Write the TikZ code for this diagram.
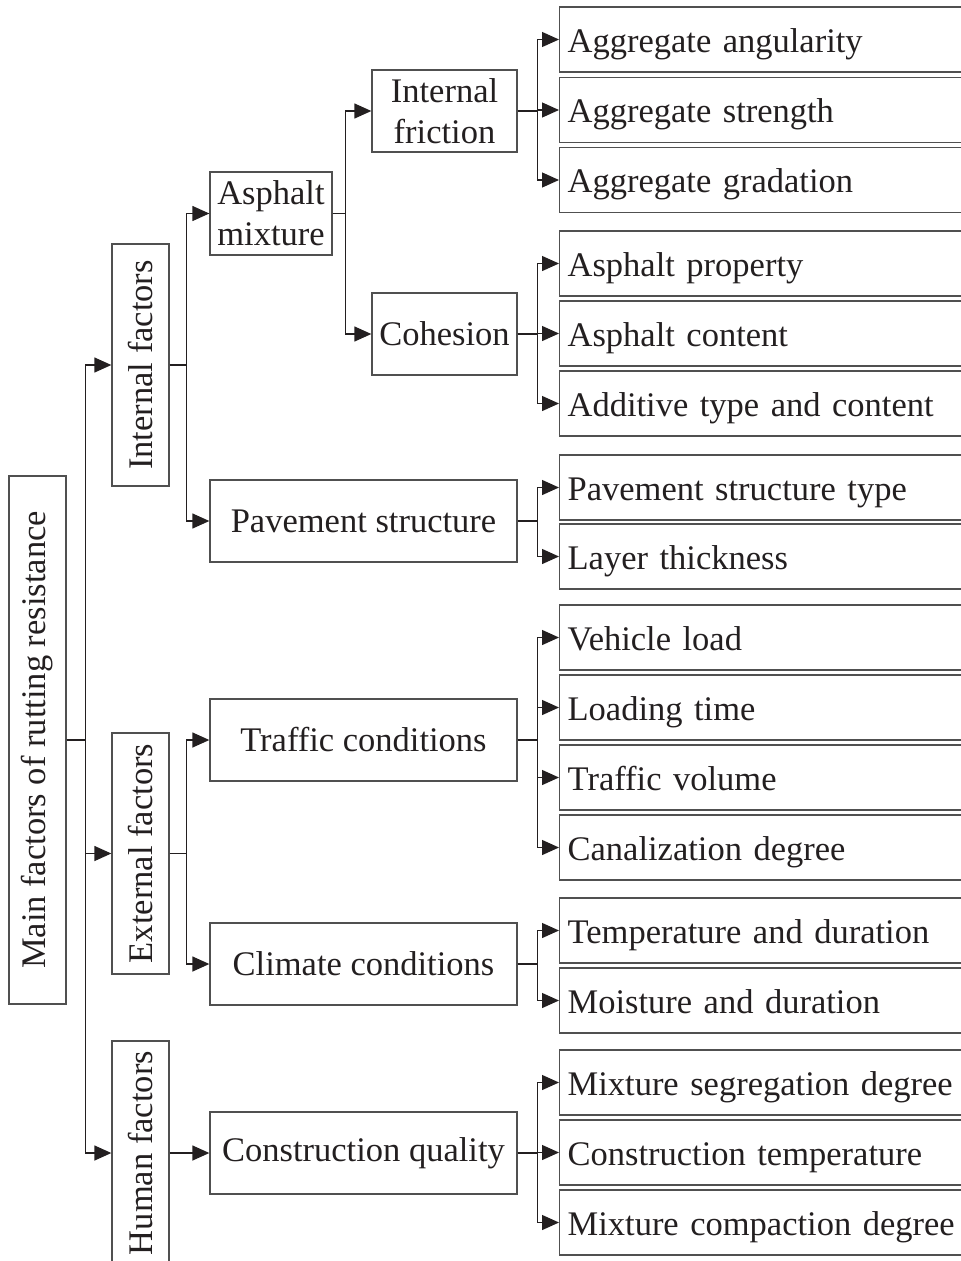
\documentclass[tikz,border=0pt]{standalone}
\usepackage{fontspec}
\setmainfont{Liberation Serif}
\usepackage{xcolor}
\usepackage{tikz}
\usetikzlibrary{arrows.meta}
\definecolor{boxcol}{HTML}{505050}
\definecolor{linecol}{HTML}{231F20}
\newcommand{\boxfont}{\fontsize{34.5}{41}\selectfont}
\tikzstyle{arrow} = [line width=1.3pt,draw=linecol,-{Triangle[length=17pt,width=15pt]}]
\tikzstyle{box} = [draw=boxcol,line width=1.3pt,inner sep=0pt,font=\boxfont,text=linecol,align=center]
\tikzstyle{side} = [box,rotate=90,minimum height=57pt]
\tikzstyle{leaf} = [box,anchor=west,minimum height=65pt,inner xsep=8pt,text width=414pt,align=left,text height=28pt,text depth=3pt]

\begin{document}
\begin{tikzpicture}[x=1pt,y=-1pt]
	\clip (0,0) rectangle (961,1261);
	
	% Root and the three groups (rotated boxes):
	\node [side,minimum width=528pt] (main) at (37.5,740) {Main factors of rutting resistance};
	\node [side,minimum width=242pt] (intf) at (140.5,365) {Internal factors};
	\node [side,minimum width=241pt] (extf) at (140.5,853.5) {External factors};
	\node [side,minimum width=224pt] (humf) at (140.5,1153) {Human factors};
	
	% Middle level:
	\node [box,minimum width=122pt,minimum height=83pt] (asph) at (271,213.5) {Asphalt\\mixture};
	\node [box,minimum width=307pt,minimum height=82pt] (pav) at (363.5,521) {Pavement structure};
	\node [box,minimum width=145pt,minimum height=82pt] (fric) at (444.5,111) {Internal\\friction};
	\node [box,minimum width=145pt,minimum height=82pt] (coh) at (444.5,334) {Cohesion};
	\node [box,minimum width=307pt,minimum height=82pt] (traf) at (363.5,740) {Traffic conditions};
	\node [box,minimum width=307pt,minimum height=82pt] (clim) at (363.5,964) {Climate conditions};
	\node [box,minimum width=307pt,minimum height=82pt] (cons) at (363.5,1153) {Construction quality};
	
	% Leaves:
	\node [leaf] (ang) at (559,39.5) {Aggregate angularity};
	\node [leaf] (str) at (559,110) {Aggregate strength};
	\node [leaf] (grad) at (559,180) {Aggregate gradation};
	\node [leaf] (prop) at (559,263.5) {Asphalt property};
	\node [leaf] (cont) at (559,333.5) {Asphalt content};
	\node [leaf] (addi) at (559,403.5) {Additive type and content};
	\node [leaf] (ptype) at (559,487.5) {Pavement structure type};
	\node [leaf] (layer) at (559,556.5) {Layer thickness};
	\node [leaf] (veh) at (559,637.5) {Vehicle load};
	\node [leaf] (ltime) at (559,707.5) {Loading time};
	\node [leaf] (tvol) at (559,777.5) {Traffic volume};
	\node [leaf] (canal) at (559,847.5) {Canalization degree};
	\node [leaf] (temp) at (559,930.5) {Temperature and duration};
	\node [leaf] (moist) at (559,1000.5) {Moisture and duration};
	\node [leaf] (segr) at (559,1082.5) {Mixture segregation degree};
	\node [leaf] (ctemp) at (559,1152.5) {Construction temperature};
	\node [leaf] (comp) at (559,1222.5) {Mixture compaction degree};
	
	% Connectors:
	\draw [arrow] (main.south) -- ++(19,0) |- (intf.north);
	\draw [arrow] (main.south) -- ++(19,0) |- (extf.north);
	\draw [arrow] (main.south) -- ++(19,0) |- (humf.north);
	
	\draw [arrow] (intf.south) -- ++(17,0) |- (asph.west);
	\draw [arrow] (intf.south) -- ++(17,0) |- (pav.west);
	\draw [arrow] (extf.south) -- ++(17,0) |- (traf.west);
	\draw [arrow] (extf.south) -- ++(17,0) |- (clim.west);
	\draw [arrow] (humf.south) -- (cons.west);
	
	\draw [arrow] (asph.east) -- ++(13,0) |- (fric.west);
	\draw [arrow] (asph.east) -- ++(13,0) |- (coh.west);
	
	\draw [arrow] (fric.east) -- ++(20,0) |- (ang.west);
	\draw [arrow] (fric.east) -- ++(20,0) |- (str.west);
	\draw [arrow] (fric.east) -- ++(20,0) |- (grad.west);
	\draw [arrow] (coh.east) -- ++(20,0) |- (prop.west);
	\draw [arrow] (coh.east) -- ++(20,0) |- (cont.west);
	\draw [arrow] (coh.east) -- ++(20,0) |- (addi.west);
	\draw [arrow] (pav.east) -- ++(20,0) |- (ptype.west);
	\draw [arrow] (pav.east) -- ++(20,0) |- (layer.west);
	\draw [arrow] (traf.east) -- ++(20,0) |- (veh.west);
	\draw [arrow] (traf.east) -- ++(20,0) |- (ltime.west);
	\draw [arrow] (traf.east) -- ++(20,0) |- (tvol.west);
	\draw [arrow] (traf.east) -- ++(20,0) |- (canal.west);
	\draw [arrow] (clim.east) -- ++(20,0) |- (temp.west);
	\draw [arrow] (clim.east) -- ++(20,0) |- (moist.west);
	\draw [arrow] (cons.east) -- ++(20,0) |- (segr.west);
	\draw [arrow] (cons.east) -- ++(20,0) |- (ctemp.west);
	\draw [arrow] (cons.east) -- ++(20,0) |- (comp.west);
	
\end{tikzpicture}
\end{document}
